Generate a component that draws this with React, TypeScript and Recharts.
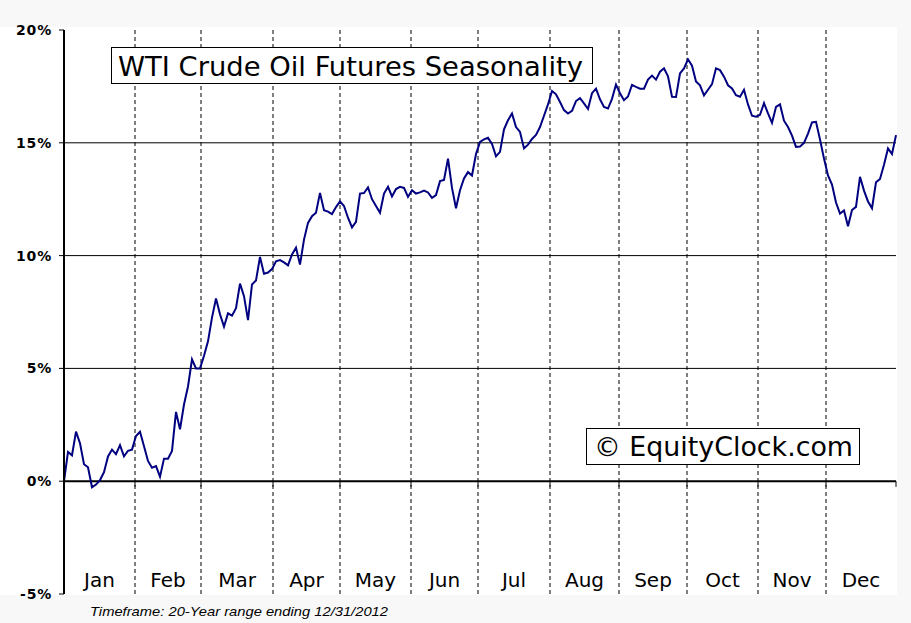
import { LineChart, Line, XAxis, YAxis, ReferenceLine } from 'recharts'

// seasonal % gain, one value per ~trading day step (Jan 1 -> Dec 31)
const seasonal = [
  0.0, 1.3, 1.15, 2.2, 1.68, 0.75, 0.62, -0.27, -0.15, 0.05,
  0.4, 1.1, 1.4, 1.2, 1.6, 1.1, 1.35, 1.4, 2.0, 2.19,
  1.55, 0.9, 0.6, 0.67, 0.2, 1.0, 1.0, 1.34, 3.07, 2.3,
  3.4, 4.2, 5.4, 5.0, 5.0, 5.56, 6.2, 7.25, 8.1, 7.4,
  6.85, 7.44, 7.34, 7.67, 8.76, 8.2, 7.14, 8.72, 8.9, 9.94,
  9.2, 9.25, 9.4, 9.75, 9.8, 9.7, 9.57, 10.05, 10.35, 9.6,
  10.71, 11.45, 11.75, 11.9, 12.78, 12.01, 11.95, 11.84, 12.15, 12.4,
  12.2, 11.68, 11.25, 11.5, 12.75, 12.77, 13.02, 12.5, 12.2, 11.9,
  12.75, 13.05, 12.62, 12.95, 13.05, 13.0, 12.6, 12.9, 12.75, 12.8,
  12.88, 12.8, 12.56, 12.68, 13.3, 13.35, 14.3, 13.0, 12.1, 12.9,
  13.42, 13.7, 13.55, 14.5, 15.04, 15.15, 15.22, 14.95, 14.4, 14.6,
  15.6, 16.0, 16.3, 15.7, 15.48, 14.75, 14.92, 15.17, 15.35, 15.7,
  16.2, 16.7, 17.3, 17.15, 16.81, 16.45, 16.3, 16.42, 16.85, 16.98,
  16.75, 16.5, 17.2, 17.4, 16.93, 16.59, 16.52, 16.95, 17.58, 17.2,
  16.89, 17.05, 17.57, 17.48, 17.4, 17.4, 17.8, 17.98, 17.8, 18.15,
  18.3, 17.95, 17.04, 17.03, 18.08, 18.3, 18.7, 18.42, 17.72, 17.55,
  17.1, 17.35, 17.6, 18.3, 18.22, 17.93, 17.55, 17.41, 17.11, 17.04,
  17.35, 16.7, 16.2, 16.16, 16.24, 16.76, 16.3, 15.88, 16.59, 16.7,
  15.98, 15.7, 15.32, 14.82, 14.83, 15.0, 15.41, 15.9, 15.93, 15.15,
  14.3, 13.55, 13.15, 12.35, 11.86, 12.0, 11.3, 12.02, 12.16, 13.49,
  12.88, 12.4, 12.1, 13.25, 13.4, 14.03, 14.75, 14.5, 15.34,
]

const months = ['Jan', 'Feb', 'Mar', 'Apr', 'May', 'Jun', 'Jul', 'Aug', 'Sep', 'Oct', 'Nov', 'Dec']
// step index where each month begins (last entry = year end)
const monthStarts = [0, 17.75, 34.25, 52.25, 69, 86.75, 103.5, 121.5, 138.75, 155.75, 173.5, 190.5, 208]
const yTicks = [-5, 0, 5, 10, 15, 20]
const gridLevels = [5, 10, 15]

const data = seasonal.map((value, day) => ({ day, value }))
const monthMids = months.map((_, i) => (monthStarts[i] + monthStarts[i + 1]) / 2)
const dividers = monthStarts.slice(1, 12)

const font = '"DejaVu Sans", Verdana, sans-serif'

function MonthTick({ x, y, payload }: any) {
  const idx = monthMids.indexOf(payload.value)
  return (
    <text x={x} y={y - 7} textAnchor="middle" fontSize={20} fontFamily={font} fill="#000">
      {months[idx]}
    </text>
  )
}

export default function App() {
  return (
    <div style={{ position: 'absolute', left: 0, top: 0, width: 911, height: 623, background: '#f8f8f8' }}>
      <div style={{ position: 'absolute', left: 0, top: 27, width: 897, height: 568, background: '#fff' }} />
      <div style={{ position: 'absolute', left: 0, top: 0 }}>
        <LineChart width={911} height={623} data={data} margin={{ top: 30, right: 15, bottom: 0, left: 0 }}>
          <XAxis
            dataKey="day"
            type="number"
            domain={[0, 208]}
            ticks={monthMids}
            interval={0}
            axisLine={false}
            tickLine={false}
            tickSize={0}
            tickMargin={0}
            height={29}
            tick={<MonthTick />}
          />
          <YAxis
            type="number"
            domain={[-5, 20]}
            ticks={yTicks}
            interval={0}
            width={64}
            tickFormatter={(v) => `${v}%`}
            axisLine={{ stroke: '#000', strokeWidth: 2 }}
            tickLine={{ stroke: '#000' }}
            tickSize={5}
            tickMargin={7}
            tick={{ fill: '#000', fontSize: 14, fontWeight: 'bold', fontFamily: font, letterSpacing: 0.8 }}
          />
          {gridLevels.map((g) => (
            <ReferenceLine key={g} y={g} stroke="#000" strokeWidth={1} />
          ))}
          {dividers.map((m) => (
            <ReferenceLine key={m} x={m} stroke="#000" strokeWidth={1} strokeDasharray="4 3" />
          ))}
          <ReferenceLine y={0} stroke="#000" strokeWidth={2} />
          {monthStarts.slice(1).map((m) => (
            <ReferenceLine
              key={'t' + m}
              segment={[{ x: m, y: 0 }, { x: m, y: -0.25 }]}
              stroke="#000"
              strokeWidth={1}
            />
          ))}
          <Line
            type="linear"
            dataKey="value"
            stroke="#000080"
            strokeWidth={2}
            dot={false}
            isAnimationActive={false}
          />
        </LineChart>
      </div>
      <svg width={911} height={623} style={{ position: 'absolute', left: 0, top: 0, pointerEvents: 'none' }}>
        <rect x={111.5} y={47.5} width={481} height={36} fill="#fff" stroke="#000" />
        <text x={118} y={76} fontSize={27} fontFamily={font} textLength={465} lengthAdjust="spacingAndGlyphs">
          WTI Crude Oil Futures Seasonality
        </text>
        <rect x={586.5} y={428.5} width={273} height={36} fill="#fff" stroke="#000" />
        <text x={594} y={456} fontSize={27} fontFamily={font} textLength={259} lengthAdjust="spacingAndGlyphs">
          © EquityClock.com
        </text>
        <text
          x={90}
          y={616}
          fontSize={13}
          fontStyle="italic"
          fontFamily='"Liberation Sans", Arial, sans-serif'
          textLength={298}
          lengthAdjust="spacingAndGlyphs"
        >
          Timeframe: 20-Year range ending 12/31/2012
        </text>
      </svg>
    </div>
  )
}
